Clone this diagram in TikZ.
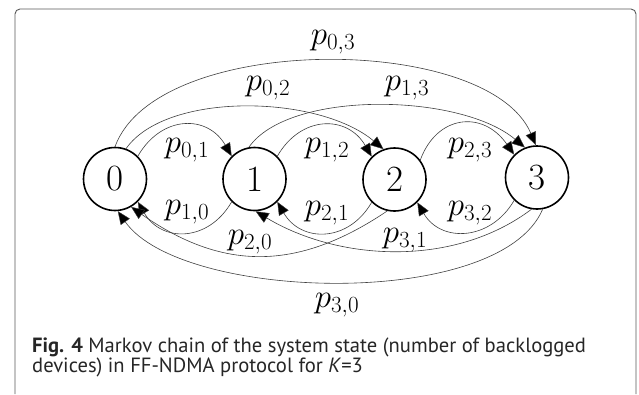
\RequirePackage{fix-cm}
\documentclass[tikz,border=0pt]{standalone}
\usepackage{fontspec}
\newfontfamily\capfont{PT Sans}
\usetikzlibrary{arrows.meta}
\tikzset{
  state/.style={circle, draw=black, line width=1.6pt, minimum size=63pt, inner sep=0pt, font=\fontsize{37}{40}\selectfont},
  edge/.style={draw=black!75, line width=0.6pt, -{Triangle[length=13pt,width=11pt,fill=black,line width=0.4pt]}},
  lbl/.style={inner sep=0pt, font=\fontsize{33}{36}\selectfont},
  framecol/.style={draw=black!65, line width=0.9pt},
  captxt/.style={anchor=base west, inner sep=0pt, font=\capfont\fontsize{20.6}{20}\selectfont, text=black!85}
}
\begin{document}
\begin{tikzpicture}[x=1pt,y=1pt]
\useasboundingbox (0,0) rectangle (639,-394);
\draw[framecol, rounded corners=5pt] (15,-394) -- (15,-9) -- (636,-9) -- (636,-394);

\node[state] (n0) at (115,-179) {0};
\node[state] (n1) at (254.5,-179) {1};
\node[state] (n2) at (394.5,-179.5) {2};
\node[state] (n3) at (537,-177.5) {3};

% forward neighbours
\draw[edge] (n0.45) .. controls +(60:48) and +(120:48) .. (n1.135);
\draw[edge] (n1.45) .. controls +(60:48) and +(120:48) .. (n2.135);
\draw[edge] (n2.37) .. controls +(70:48) and +(125:55) .. (n3.135);
% backward neighbours
\draw[edge] (n1.225) .. controls +(-120:47) and +(-60:47) .. (n0.-45);
\draw[edge] (n2.225) .. controls +(-120:47) and +(-60:47) .. (n1.-45);
\draw[edge] (n3.225) .. controls +(-120:47) and +(-60:47) .. (n2.-45);
% skip-one forward
\draw[edge] (n0.70) .. controls +(55:70) and +(140:85) .. (n2.110);
\draw[edge] (n1.100) .. controls +(55:70) and +(140:85) .. (n3.112);
% skip-one backward
\draw[edge] (n2.257) .. controls +(-146:110) and +(-35:110) .. (n0.-60);
\draw[edge] (n3.260) .. controls +(-143:97) and +(-31:97) .. (n1.-88);
% long
\draw[edge] (n0.90) .. controls +(70:122) and +(113:122) .. (n3.92);
\draw[edge] (n3.280) .. controls +(-113:110) and +(-55:110) .. (n0.-85);

\node[lbl] (l01) at (187,-150) {$p_{0,1}$};
\node[lbl] (l12) at (327,-150) {$p_{1,2}$};
\node[lbl] (l23) at (470,-150) {$p_{2,3}$};
\node[lbl] (l10) at (187,-212) {$p_{1,0}$};
\node[lbl] (l21) at (327,-213) {$p_{2,1}$};
\node[lbl] (l32) at (470,-213) {$p_{3,2}$};
\node[lbl] (l02) at (268,-88) {$p_{0,2}$};
\node[lbl] (l13) at (407,-88) {$p_{1,3}$};
\node[lbl] (l03) at (333,-42) {$p_{0,3}$};
\node[lbl] (l20) at (250,-242) {$p_{2,0}$};
\node[lbl] (l31) at (405,-240) {$p_{3,1}$};
\node[lbl] (l30) at (337,-305) {$p_{3,0}$};

\node[captxt] (cap1) at (32,-352) {\textbf{Fig. 4} Markov chain of the system state (number of backlogged};
\node[captxt] (cap2) at (32,-372) {devices) in FF-NDMA protocol for \textit{K}=3};
\end{tikzpicture}
\end{document}
